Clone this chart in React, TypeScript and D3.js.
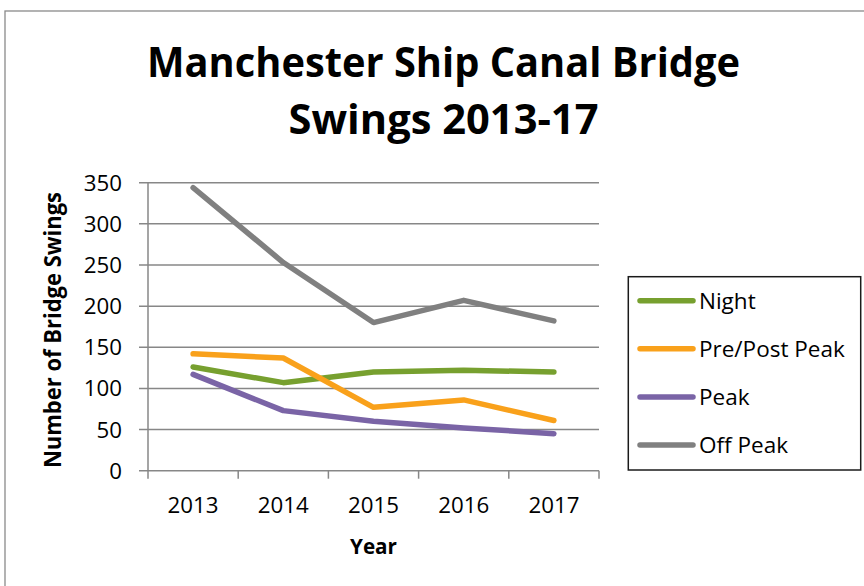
import React from "react";
import * as d3 from "d3";

const years = ["2013", "2014", "2015", "2016", "2017"];
const night = [126, 107, 120, 122, 120];
const prePost = [142, 137, 77, 86, 61];
const peak = [117, 73, 60, 52, 45];
const offPeak = [344, 253, 180, 207, 182];
const yTicks = [0, 50, 100, 150, 200, 250, 300, 350];
const seriesNames = ["Night", "Pre/Post Peak", "Peak", "Off Peak"];
const seriesColors = ["#77A02F", "#F9A11B", "#7A64A6", "#808080"];

const W = 864;
const H = 586;
const FONT = "'Open Sans', 'DejaVu Sans', sans-serif";

export default function App() {
  const series = [night, prePost, peak, offPeak];
  const x = d3.scaleBand<string>().domain(years).range([148, 599]);
  const y = d3.scaleLinear().domain([0, 350]).range([470.7, 182.7]);
  const line = d3
    .line<number>()
    .x((_, i) => (x(years[i]) as number) + x.bandwidth() / 2)
    .y((d) => y(d));
  const grid = "#878787";
  const legendY = d3.scaleLinear().domain([0, 3]).range([300.7, 445]);

  return (
    <svg
      width={W}
      height={H}
      style={{ position: "absolute", left: 0, top: 0, background: "#fff" }}
      fontFamily={FONT}
    >
      <rect x={5} y={11} width={W + 20} height={H + 20} fill="#fff" stroke="#8a8a8a" strokeWidth={1.3} />
      <text x={443.5} y={77} textAnchor="middle" fontSize={41} fontWeight={700} textLength={593} lengthAdjust="spacingAndGlyphs">
        Manchester Ship Canal Bridge
      </text>
      <text x={443.5} y={134} textAnchor="middle" fontSize={41} fontWeight={700} textLength={310} lengthAdjust="spacingAndGlyphs">
        Swings 2013-17
      </text>

      {yTicks.map((t) => (
        <g key={t}>
          <line x1={139} x2={599} y1={y(t)} y2={y(t)} stroke={grid} strokeWidth={1.5} />
          <text x={122} y={y(t)} dy="0.36em" textAnchor="end" fontSize={22.3}>
            {t}
          </text>
        </g>
      ))}
      <line x1={148} x2={148} y1={y(350)} y2={y(0)} stroke={grid} strokeWidth={1.5} />
      {[...years.map((yr) => x(yr) as number), 599].map((xv, i) => (
        <line key={i} x1={xv} x2={xv} y1={y(0)} y2={y(0) + 8} stroke={grid} strokeWidth={1.5} />
      ))}
      {years.map((yr) => (
        <text key={yr} x={(x(yr) as number) + x.bandwidth() / 2} y={513} textAnchor="middle" fontSize={22.3}>
          {yr}
        </text>
      ))}
      <text x={373.5} y={554} textAnchor="middle" fontSize={21} fontWeight={700} textLength={47} lengthAdjust="spacingAndGlyphs">
        Year
      </text>
      <text
        transform={`translate(60.5,330) rotate(-90)`}
        textAnchor="middle"
        fontSize={23}
        fontWeight={700}
        textLength={276}
        lengthAdjust="spacingAndGlyphs"
      >
        Number of Bridge Swings
      </text>

      {series.map((s, i) => (
        <path
          key={i}
          d={line(s) as string}
          fill="none"
          stroke={seriesColors[i]}
          strokeWidth={5.5}
          strokeLinecap="round"
          strokeLinejoin="round"
        />
      ))}

      <rect x={628.3} y={276.7} width={232.4} height={193.3} fill="#fff" stroke="#1a1a1a" strokeWidth={1.5} />
      {seriesNames.map((n, i) => (
        <g key={n}>
          <line x1={640} x2={693} y1={legendY(i)} y2={legendY(i)} stroke={seriesColors[i]} strokeWidth={5.5} strokeLinecap="round" />
          <text x={699} y={legendY(i)} dy="0.36em" fontSize={22.5}>
            {n}
          </text>
        </g>
      ))}
    </svg>
  );
}
